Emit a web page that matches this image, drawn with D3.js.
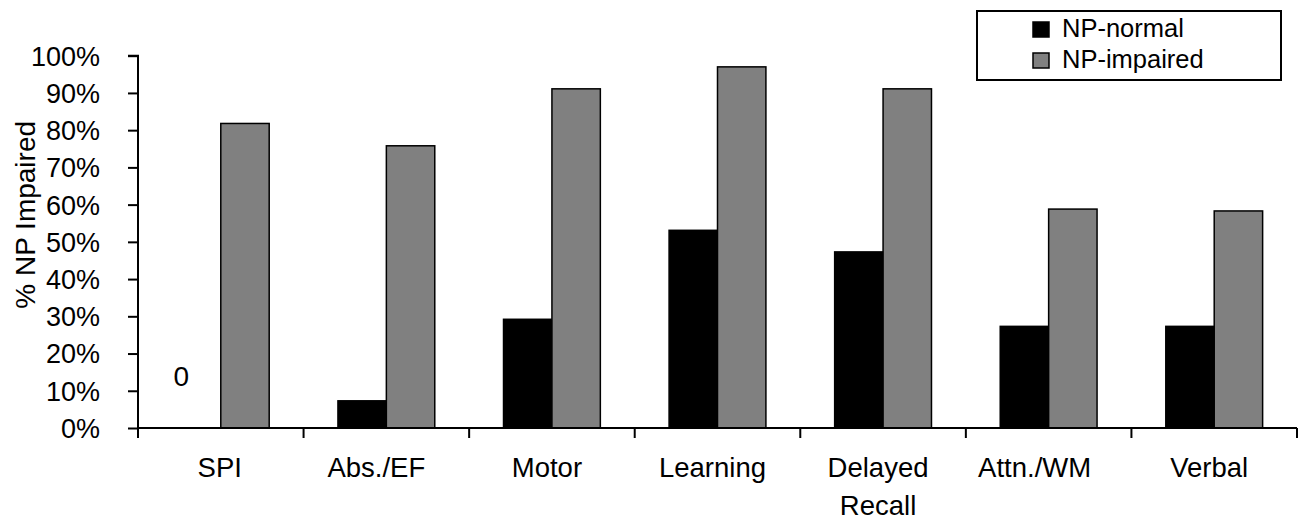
<!DOCTYPE html>
<html><head><meta charset="utf-8">
<script src="https://cdn.jsdelivr.net/npm/d3@7"></script>
<style>body{margin:0;background:#fff}svg{display:block}text{font-family:"Liberation Sans",Arial,sans-serif;fill:#000}</style>
</head><body>
<script>
const categories = ["SPI","Abs./EF","Motor","Learning","Delayed Recall","Attn./WM","Verbal"];
const seriesNames = ["NP-normal","NP-impaired"];
const npNormal = [0, 7.3, 29.2, 53.1, 47.3, 27.3, 27.3];
const npImpaired = [81.8, 75.8, 91.1, 97.0, 91.1, 58.8, 58.3];
const yTicks = [0,10,20,30,40,50,60,70,80,90,100];
const colors = ["#000000","#808080"];

const W = 1306, H = 521;
const svg = d3.select("body").append("svg").attr("width", W).attr("height", H);
const x0 = 138, x1 = 1297, yTop = 55.7, yBot = 428;
const x = d3.scaleBand().domain(categories).range([x0, x1]).paddingInner(0).paddingOuter(0);
const y = d3.scaleLinear().domain([0, 100]).range([yBot, yTop]);
const xs = d3.scaleBand().domain(seriesNames).range([0, x.bandwidth()]).paddingInner(0).paddingOuter(0.71);

const data = [npNormal, npImpaired];
categories.forEach((c, i) => {
  seriesNames.forEach((s, j) => {
    const v = data[j][i];
    if (v <= 0) return;
    svg.append("rect")
      .attr("x", x(c) + xs(s)).attr("width", xs.bandwidth())
      .attr("y", y(v)).attr("height", y(0) - y(v))
      .attr("fill", colors[j]).attr("stroke", "#000").attr("stroke-width", 1.5);
  });
});

// Y axis
const yAxis = d3.axisLeft(y).tickValues(yTicks).tickFormat(d => d + "%").tickSize(10).tickPadding(28);
const gy = svg.append("g").attr("transform", `translate(${x0},0)`).call(yAxis);
gy.select(".domain").attr("stroke-width", 2).attr("d", `M-10,${yTop}H0V${yBot}`);
gy.selectAll(".tick line").attr("stroke-width", 2);
gy.selectAll(".tick text").attr("font-size", 27).attr("font-family", '"Liberation Sans",Arial,sans-serif').attr("dy", "0.35em");

// X axis line and boundary ticks
svg.append("line").attr("x1", x0).attr("x2", x1).attr("y1", yBot).attr("y2", yBot).attr("stroke", "#000").attr("stroke-width", 2);
const bounds = categories.map(c => x(c)).concat([x1]);
svg.selectAll(".xt").data(bounds).enter().append("line")
  .attr("x1", d => d).attr("x2", d => d).attr("y1", yBot).attr("y2", yBot + 10)
  .attr("stroke", "#000").attr("stroke-width", 2);

// category labels (small layout nudges to match the original placement)
const labelNudge = {"Abs./EF": -10, "Attn./WM": -14, "SPI": -1};
categories.forEach(c => {
  const words = c === "Delayed Recall" ? ["Delayed", "Recall"] : [c];
  const cx = x(c) + x.bandwidth() / 2 + (c in labelNudge ? labelNudge[c] : -5);
  const t = svg.append("text").attr("text-anchor", "middle").attr("font-size", 27.5)
    .attr("x", cx).attr("y", 477);
  words.forEach((w, k) => t.append("tspan").attr("x", cx).attr("dy", k ? 38 : 0).text(w));
});

// zero label
svg.append("text").attr("x", x("SPI") + xs("NP-normal") + 9).attr("y", y(0) - 42)
  .attr("text-anchor", "middle").attr("font-size", 28).text("0");

// y title
svg.append("text").attr("transform", `translate(35,${(yTop + yBot) / 2 - 27}) rotate(-90)`)
  .attr("text-anchor", "middle").attr("font-size", 28).text("% NP Impaired");

// legend
const lg = svg.append("g");
lg.append("rect").attr("x", 977).attr("y", 11).attr("width", 304).attr("height", 69)
  .attr("fill", "#fff").attr("stroke", "#000").attr("stroke-width", 2);
seriesNames.forEach((s, j) => {
  lg.append("rect").attr("x", 1033).attr("y", 22 + j * 31).attr("width", 16).attr("height", 15)
    .attr("fill", colors[j]).attr("stroke", "#000").attr("stroke-width", 1.5);
  lg.append("text").attr("x", 1062).attr("y", 37 + j * 31).attr("font-size", 25.5).text(s);
});
</script>
</body></html>
